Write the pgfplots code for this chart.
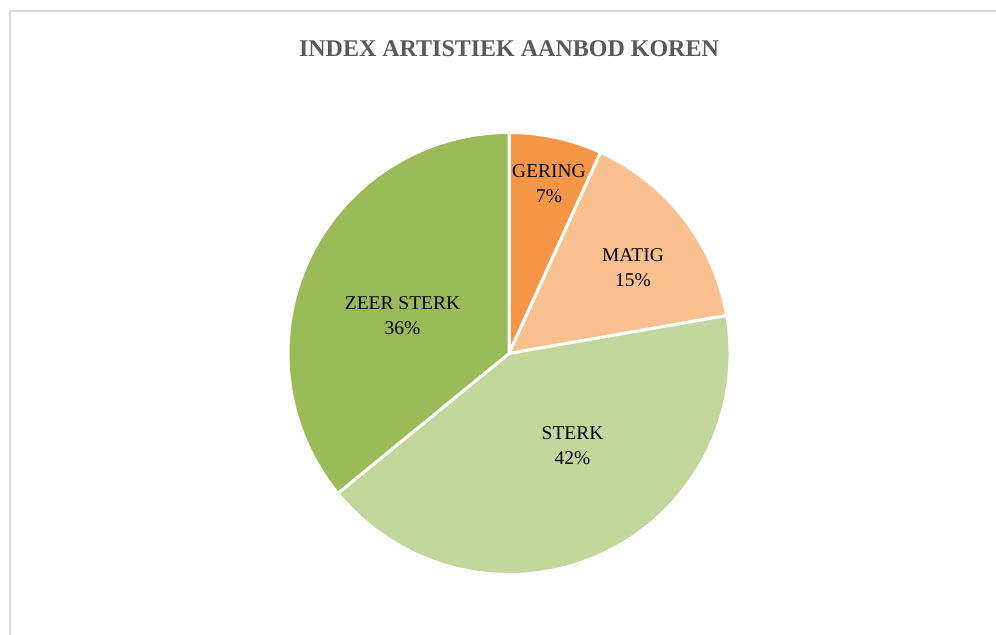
\documentclass[border=0pt]{standalone}
\usepackage{pgfplots}
\pgfplotsset{compat=1.18}
\usepackage{pgfplotstable}
\usepackage{fontspec}
\setmainfont{Liberation Serif}
\definecolor{gering}{HTML}{F79646}
\definecolor{matig}{HTML}{FAC090}
\definecolor{sterk}{HTML}{C3D69B}
\definecolor{zeersterk}{HTML}{9BBB59}
\definecolor{titlegray}{HTML}{595959}
\definecolor{framegray}{HTML}{D9D9D9}

\pgfplotstableread[col sep=comma]{
label,value
GERING,6.8
MATIG,15.45
STERK,41.85
ZEER STERK,35.9
}\piedata

\pgfplotstablegetelem{0}{value}\of\piedata \let\va\pgfplotsretval
\pgfplotstablegetelem{1}{value}\of\piedata \let\vb\pgfplotsretval
\pgfplotstablegetelem{2}{value}\of\piedata \let\vc\pgfplotsretval
\pgfplotstablegetelem{3}{value}\of\piedata \let\vd\pgfplotsretval
\pgfmathsetmacro{\aA}{90}
\pgfmathsetmacro{\aB}{\aA-3.6*\va}
\pgfmathsetmacro{\aC}{\aB-3.6*\vb}
\pgfmathsetmacro{\aD}{\aC-3.6*\vc}
\pgfmathsetmacro{\aE}{\aD-3.6*\vd}
\def\R{165.75pt}
\newcommand{\pct}[1]{\pgfmathprintnumber[fixed,precision=0,assume math mode=true]{#1}\%}

\begin{document}
\begin{tikzpicture}
\begin{axis}[
  scale only axis, width=747pt, height=476.25pt,
  xmin=0, xmax=996, ymin=0, ymax=635,
  hide axis,
]
\addplot[draw=none] coordinates {(0,0) (996,635)};
\draw[framegray, line width=1.5pt] (axis cs:10,-20) -- (axis cs:10,623.5) -- (axis cs:1020,623.5);
\filldraw[fill=gering, draw=white, line width=2.25pt, line join=round] (axis cs:509,281.5) -- ++(\aA:\R) arc[start angle=\aA, end angle=\aB, radius=\R] -- cycle;
\filldraw[fill=matig, draw=white, line width=2.25pt, line join=round] (axis cs:509,281.5) -- ++(\aB:\R) arc[start angle=\aB, end angle=\aC, radius=\R] -- cycle;
\filldraw[fill=sterk, draw=white, line width=2.25pt, line join=round] (axis cs:509,281.5) -- ++(\aC:\R) arc[start angle=\aC, end angle=\aD, radius=\R] -- cycle;
\filldraw[fill=zeersterk, draw=white, line width=2.25pt, line join=round] (axis cs:509,281.5) -- ++(\aD:\R) arc[start angle=\aD, end angle=\aE, radius=\R] -- cycle;
\node[anchor=base, text=titlegray, font=\bfseries\fontsize{18}{22}\selectfont] at (axis cs:509,578) {INDEX ARTISTIEK AANBOD KOREN};
\tikzset{lbl/.style={align=center, font=\fontsize{14.6}{18.75}\selectfont, text=black}}
\node[lbl] at (axis cs:549,451) {GERING\\\pct{\va}};
\node[lbl] at (axis cs:633,367.5) {MATIG\\\pct{\vb}};
\node[lbl] at (axis cs:572.5,189) {STERK\\\pct{\vc}};
\node[lbl] at (axis cs:402.5,319) {ZEER STERK\\\pct{\vd}};
\end{axis}
\end{tikzpicture}
\end{document}
